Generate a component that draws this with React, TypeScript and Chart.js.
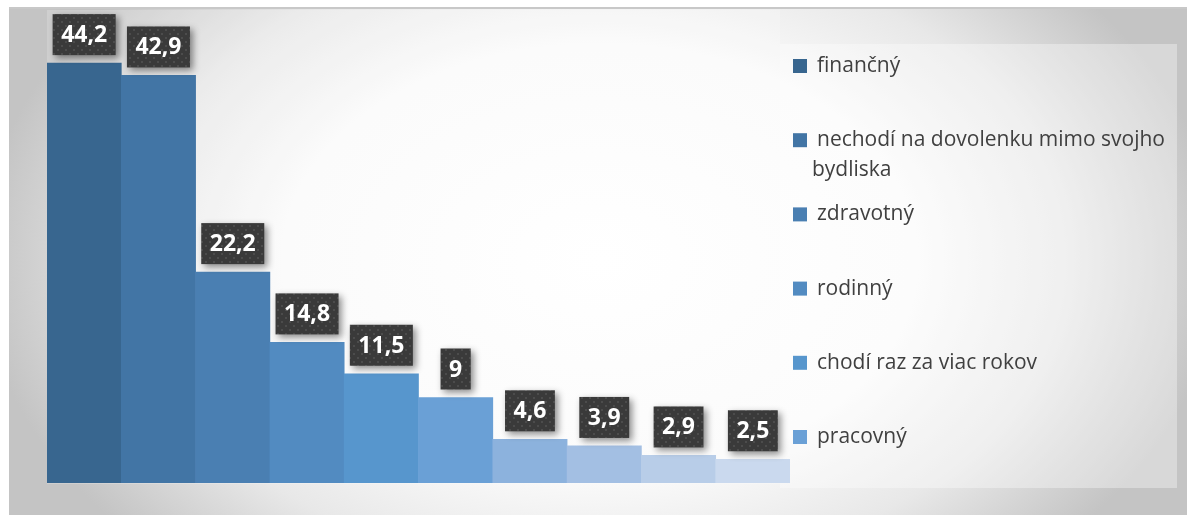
import React, { useEffect, useRef } from "react";
import { Chart, registerables } from "chart.js";

Chart.register(...registerables);

const categories = [
  "finančný",
  "nechodí na dovolenku mimo svojho bydliska",
  "zdravotný",
  "rodinný",
  "chodí raz za viac rokov",
  "pracovný",
  "",
  "",
  "",
  "",
];
const values = [44.2, 42.9, 22.2, 14.8, 11.5, 9, 4.6, 3.9, 2.9, 2.5];
const barColors = [
  "#38668f",
  "#4275a5",
  "#4a7fb2",
  "#528bc1",
  "#5796cd",
  "#6aa0d6",
  "#8cb2dd",
  "#a3bfe3",
  "#b8cde8",
  "#cad9ee",
];
const legendCount = 6;

function makePattern(ctx: CanvasRenderingContext2D) {
  const c = document.createElement("canvas");
  c.width = 8;
  c.height = 8;
  const p = c.getContext("2d")!;
  p.fillStyle = "#3a3a3a";
  p.fillRect(0, 0, 8, 8);
  p.fillStyle = "#4c4c4c";
  p.fillRect(1, 1, 2, 2);
  p.fillRect(5, 5, 2, 2);
  return ctx.createPattern(c, "repeat") || "#3a3a3a";
}

const backgroundPlugin = {
  id: "bgPlugin",
  beforeDraw(chart: any) {
    const ctx: CanvasRenderingContext2D = chart.ctx;
    const W = chart.width;
    const H = chart.height;
    ctx.save();
    ctx.fillStyle = "#ffffff";
    ctx.fillRect(0, 0, W, H);
    ctx.save();
    ctx.beginPath();
    ctx.rect(9, 8, W - 9, H - 8);
    ctx.clip();
    ctx.translate(600, 260);
    ctx.scale(1, 0.68);
    const g = ctx.createRadialGradient(0, 0, 0, 0, 0, 620);
    g.addColorStop(0, "#ffffff");
    g.addColorStop(0.5, "#fbfbfb");
    g.addColorStop(0.75, "#e8e8e8");
    g.addColorStop(1, "#c4c4c4");
    ctx.fillStyle = g;
    ctx.fillRect(-700, -800, 1400, 1600);
    ctx.restore();
    ctx.fillStyle = "#c8c8c8";
    ctx.fillRect(9, 7, W - 9, 2);
    ctx.fillStyle = "rgba(255,255,255,0.35)";
    ctx.fillRect(780, 44, 397, 444);
    ctx.fillStyle = "rgba(255,255,255,0.2)";
    ctx.fillRect(47, 10, 733, 474);
    ctx.restore();
  },
};

const labelPlugin = {
  id: "labelPlugin",
  afterDatasetsDraw(chart: any) {
    const ctx: CanvasRenderingContext2D = chart.ctx;
    const meta = chart.getDatasetMeta(0);
    const pattern = makePattern(ctx);
    ctx.save();
    ctx.font = "bold 23px 'Open Sans'";
    ctx.textAlign = "center";
    ctx.textBaseline = "middle";
    meta.data.forEach((bar: any, i: number) => {
      const text = String(values[i]).replace(".", ",");
      const tw = ctx.measureText(text).width;
      const w = tw + 17;
      const h = 41;
      const x = bar.x - w / 2;
      const y = bar.y - 8 - h;
      ctx.save();
      ctx.shadowColor = "rgba(0,0,0,0.45)";
      ctx.shadowBlur = 7;
      ctx.shadowOffsetX = 3;
      ctx.shadowOffsetY = 3;
      ctx.fillStyle = pattern as any;
      ctx.fillRect(x, y, w, h);
      ctx.restore();
      ctx.fillStyle = "#ffffff";
      ctx.fillText(text, bar.x, y + h / 2 + 1);
    });
    ctx.restore();
  },
};

const legendPlugin = {
  id: "customLegend",
  afterDraw(chart: any) {
    const ctx: CanvasRenderingContext2D = chart.ctx;
    ctx.save();
    ctx.font = "21px 'Open Sans'";
    ctx.textBaseline = "middle";
    ctx.textAlign = "left";
    const maxW = 355;
    for (let i = 0; i < legendCount; i++) {
      const cy = 66 + i * 74.2;
      ctx.fillStyle = barColors[i];
      ctx.fillRect(793, cy - 7, 14, 14);
      ctx.fillStyle = "#404040";
      const words = categories[i].split(" ");
      const lines: string[] = [];
      let cur = "";
      for (const w of words) {
        const test = cur ? cur + " " + w : w;
        if (ctx.measureText(test).width > maxW && cur) {
          lines.push(cur);
          cur = w;
        } else cur = test;
      }
      if (cur) lines.push(cur);
      lines.forEach((ln, k) => {
        ctx.fillText(ln, k === 0 ? 817 : 812, cy + k * 30);
      });
    }
    ctx.restore();
  },
};

export default function App() {
  const ref = useRef<HTMLCanvasElement>(null);
  useEffect(() => {
    const chart = new Chart(ref.current!, {
      type: "bar",
      data: {
        labels: categories.map((c, i) => c || String(i + 1)),
        datasets: [
          {
            data: values,
            backgroundColor: barColors,
            borderWidth: 0,
            barPercentage: 1,
            categoryPercentage: 1,
          },
        ],
      },
      options: {
        animation: false,
        responsive: false,
        devicePixelRatio: 1,
        layout: { padding: { left: 47, right: 397, top: 8, bottom: 32 } },
        plugins: { legend: { display: false }, tooltip: { enabled: false }, title: { display: false } },
        scales: {
          x: { display: false, offset: true },
          y: { display: false, min: 0, max: 50 },
        },
      },
      plugins: [backgroundPlugin, labelPlugin, legendPlugin],
    });
    return () => chart.destroy();
  }, []);
  return (
    <div style={{ position: "absolute", left: 0, top: 0, width: 1187, height: 515 }}>
      <canvas ref={ref} width={1187} height={515} style={{ display: "block" }} />
    </div>
  );
}
